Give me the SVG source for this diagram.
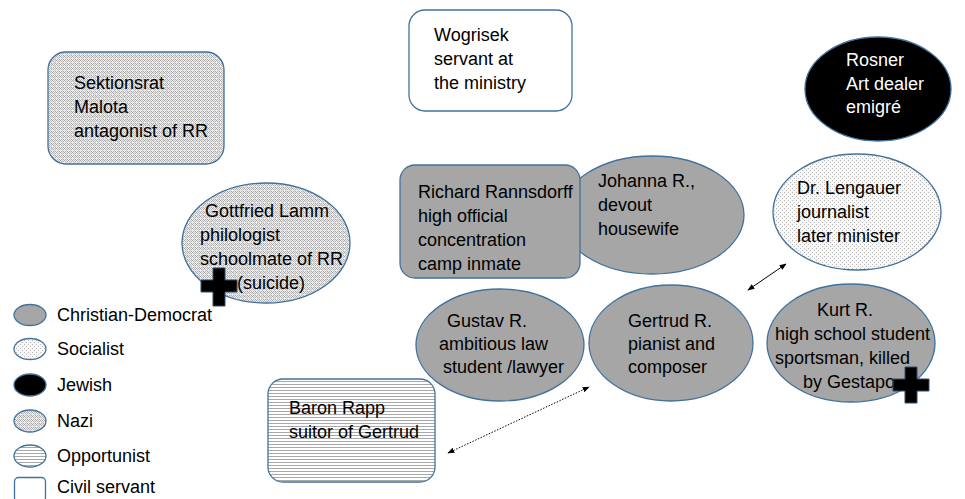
<svg xmlns="http://www.w3.org/2000/svg" width="965" height="499" viewBox="0 0 965 499">
<style>
text{font-family:"Liberation Sans",Arial,sans-serif;font-size:18px;fill:#000}
.w{fill:#fff}
.sh{stroke:#41719c;stroke-width:1.3}
.cd{fill:#a6a6a6}
.soc{fill:url(#pSoc)}
.naz{fill:url(#pNazi)}
.opp{fill:url(#pOpp)}
.civ{fill:#fff}
.jew{fill:#000}
.cross{fill:#000;stroke:#2f4f6f;stroke-width:1}
.conn{stroke:#000;stroke-width:1;fill:none}
</style>
<defs>
<pattern id="pNazi" width="4" height="4" patternUnits="userSpaceOnUse">
<rect width="4" height="4" fill="#ebebeb"/>
<rect x="0" y="0" width="1" height="1" fill="#a8a8a8"/>
<rect x="1" y="1" width="1" height="1" fill="#b4b4b4"/>
<rect x="2" y="2" width="1" height="1" fill="#c4c4c4"/>
<rect x="3" y="1" width="1" height="1" fill="#b4b4b4"/>
<rect x="2" y="0" width="1" height="1" fill="#c4c4c4"/>
<rect x="1" y="3" width="1" height="1" fill="#b4b4b4"/>
<rect x="3" y="3" width="1" height="1" fill="#a8a8a8"/>
</pattern>
<pattern id="pSoc" width="4" height="4" patternUnits="userSpaceOnUse">
<rect width="4" height="4" fill="#f8f8f8"/>
<rect x="0" y="0" width="1" height="1" fill="#b8b8b8"/>
<rect x="2" y="2" width="1" height="1" fill="#b8b8b8"/>
</pattern>
<pattern id="pOpp" width="4" height="3" patternUnits="userSpaceOnUse">
<rect width="4" height="3" fill="#fff"/>
<rect x="0" y="0" width="4" height="1" fill="#a8a8a8"/>
</pattern>
<marker id="ah" viewBox="0 0 10 10" refX="9" refY="5" markerWidth="7" markerHeight="7" orient="auto-start-reverse" markerUnits="userSpaceOnUse">
<path d="M0,1 L10,5 L0,9 z" fill="#000"/>
</marker>
</defs>

<g id="connectors">
<line class="conn" x1="748" y1="290" x2="786" y2="264" marker-start="url(#ah)" marker-end="url(#ah)"/>
<line class="conn" x1="448" y1="453" x2="589" y2="387" stroke-dasharray="1.5,1.5" marker-start="url(#ah)" marker-end="url(#ah)"/>
</g>

<g id="sektionsrat">
<rect class="sh naz" x="48" y="52" width="176" height="112" rx="18"/>
<text x="74" y="89">Sektionsrat</text>
<text x="74" y="113">Malota</text>
<text x="74" y="137">antagonist of RR</text>
</g>

<g id="wogrisek">
<rect class="sh civ" x="409" y="10" width="163" height="101" rx="16"/>
<text x="434" y="41">Wogrisek</text>
<text x="434" y="65">servant at</text>
<text x="434" y="89">the ministry</text>
</g>

<g id="rosner">
<ellipse class="sh jew" cx="878" cy="89" rx="73" ry="52"/>
<text class="w" x="846" y="66">Rosner</text>
<text class="w" x="846" y="90">Art dealer</text>
<text class="w" x="846" y="113">emigré</text>
</g>

<g id="gottfried">
<ellipse class="sh naz" cx="266" cy="243" rx="84" ry="60"/>
<text x="205" y="217">Gottfried Lamm</text>
<text x="200" y="241">philologist</text>
<text x="200" y="265">schoolmate of RR</text>
<text x="237" y="289">(suicide)</text>
<path class="cross" d="M213,268 h12 v12 h12 v12 h-12 v14 h-12 v-14 h-12 v-12 h12 z"/>
</g>

<g id="johanna">
<ellipse class="sh cd" cx="652" cy="215" rx="92" ry="59"/>
<text x="598" y="187">Johanna R.,</text>
<text x="598" y="211">devout</text>
<text x="598" y="235">housewife</text>
</g>

<g id="richard">
<rect class="sh cd" x="400" y="165" width="180" height="113" rx="15"/>
<text x="418" y="198">Richard Rannsdorff</text>
<text x="418" y="222">high official</text>
<text x="418" y="246">concentration</text>
<text x="418" y="270">camp inmate</text>
</g>

<g id="lengauer">
<ellipse class="sh soc" cx="857" cy="212" rx="84" ry="58"/>
<text x="797" y="194">Dr. Lengauer</text>
<text x="797" y="218">journalist</text>
<text x="797" y="242">later minister</text>
</g>

<g id="gustav">
<ellipse class="sh cd" cx="500" cy="345" rx="84" ry="56"/>
<text x="447" y="327">Gustav R.</text>
<text x="439" y="350">ambitious law</text>
<text x="443" y="373">student /lawyer</text>
</g>

<g id="gertrud">
<ellipse class="sh cd" cx="671" cy="343" rx="82" ry="58"/>
<text x="628" y="327">Gertrud R.</text>
<text x="628" y="350">pianist and</text>
<text x="628" y="373">composer</text>
</g>

<g id="kurt">
<ellipse class="sh cd" cx="851" cy="343" rx="84" ry="59"/>
<text x="817" y="316">Kurt R.</text>
<text x="775" y="340">high school student</text>
<text x="775" y="364">sportsman, killed</text>
<text x="803" y="388">by Gestapo</text>
<path class="cross" d="M905,367 h12 v12 h12 v12 h-12 v12 h-12 v-12 h-12 v-12 h12 z"/>
</g>

<g id="baron-rapp">
<rect class="sh opp" x="268" y="379" width="167" height="103" rx="15"/>
<text x="289" y="414">Baron Rapp</text>
<text x="289" y="438">suitor of Gertrud</text>
</g>

<g id="legend">
<ellipse class="sh cd" cx="30" cy="315" rx="16" ry="10.5"/>
<text x="57" y="321">Christian-Democrat</text>
<ellipse class="sh soc" cx="30" cy="349" rx="16" ry="10.5"/>
<text x="57" y="355">Socialist</text>
<ellipse class="sh jew" cx="30" cy="385" rx="16" ry="11"/>
<text x="57" y="391">Jewish</text>
<ellipse class="sh naz" cx="30" cy="421" rx="16" ry="11"/>
<text x="57" y="427">Nazi</text>
<ellipse class="sh opp" cx="30" cy="456" rx="16" ry="11"/>
<text x="57" y="462">Opportunist</text>
<rect class="sh civ" x="14.5" y="477.5" width="31" height="24" rx="4"/>
<text x="57" y="493">Civil servant</text>
</g>
</svg>
